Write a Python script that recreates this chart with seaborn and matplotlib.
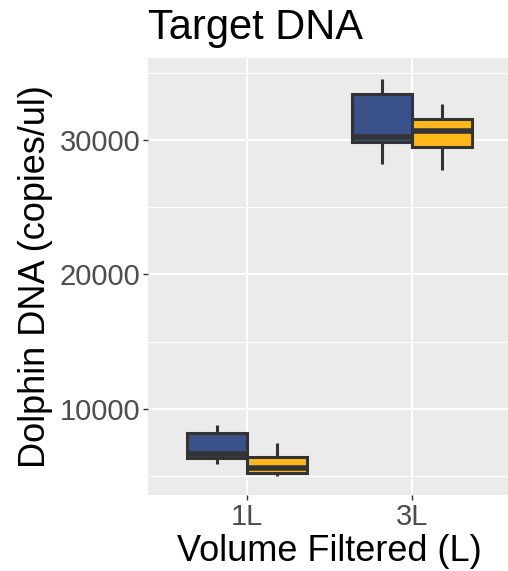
import numpy as np
import pandas as pd
import seaborn as sns
import matplotlib.pyplot as plt
from matplotlib.ticker import MultipleLocator

# values (min, q1, median, q3, max per box)
volumes = ['1L', '3L']
filters = ['Filter A', 'Filter B']
blue_1L = [5910, 6320, 6620, 8220, 8750]
yellow_1L = [5020, 5240, 5600, 6380, 7420]
blue_3L = [28200, 29830, 30220, 33400, 34550]
yellow_3L = [27770, 29500, 30650, 31540, 32700]
colors = ['#3A5189', '#FDB71A']

rows = []
for vol, f, vals in [('1L', filters[0], blue_1L), ('1L', filters[1], yellow_1L),
                     ('3L', filters[0], blue_3L), ('3L', filters[1], yellow_3L)]:
    for v in vals:
        rows.append({'Volume': vol, 'Filter': f, 'DNA': v})
df = pd.DataFrame(rows)

sns.set_theme(style='darkgrid', rc={'axes.facecolor': '#EBEBEB', 'grid.color': 'white'})
plt.rcParams['font.family'] = ['Liberation Sans', 'DejaVu Sans']

fig = plt.figure(figsize=(5.08, 5.71), dpi=100)
# panel runs a little past the right edge, as in the cropped original
ax = fig.add_axes([148/508, 1 - 495/571, 363/508, 437/571])

sns.boxplot(data=df, x='Volume', y='DNA', hue='Filter', order=volumes, hue_order=filters,
            palette=colors, width=0.73, gap=0, linecolor='#333333', linewidth=2.2,
            showcaps=False, whis=np.inf, saturation=1, legend=False, ax=ax,
            medianprops={'linewidth': 4})

ax.set_xlim(-0.6, 1.6)
ax.set_ylim(3576, 36100)
ax.yaxis.set_major_locator(MultipleLocator(10000))
ax.yaxis.set_minor_locator(MultipleLocator(5000))
ax.grid(which='major', color='white', linewidth=1.5)
ax.grid(which='minor', axis='y', color='white', linewidth=0.8)
ax.set_axisbelow(True)
for s in ax.spines.values():
    s.set_visible(False)

ax.tick_params(axis='both', which='major', length=3.6, width=1, color='#333333',
               labelsize=21, labelcolor='#4D4D4D', pad=2, left=True, bottom=True)
ax.tick_params(axis='y', which='minor', length=0)

ax.set_xlabel('Volume Filtered (L)', fontsize=26, color='black', labelpad=2)
ax.set_ylabel('Dolphin DNA (copies/ul)', fontsize=26, color='black', labelpad=5)
ax.set_title('Target DNA', loc='left', fontsize=30, color='black', pad=14)

fig.savefig('out.png', dpi=100)
